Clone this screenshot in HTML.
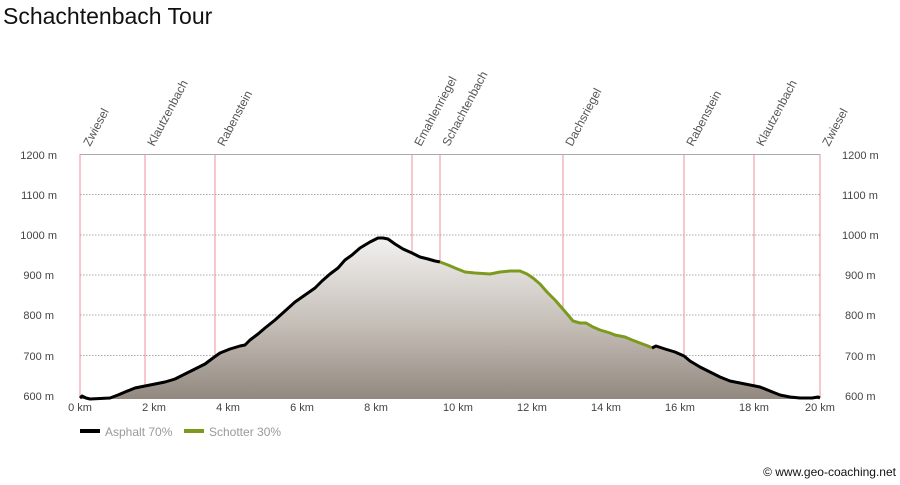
<!DOCTYPE html>
<html><head><meta charset="utf-8"><style>
body{margin:0;background:#fff;width:900px;height:480px;overflow:hidden;font-family:"Liberation Sans",sans-serif}
</style></head><body>
<svg width="900" height="480" xmlns="http://www.w3.org/2000/svg" font-family="Liberation Sans, sans-serif">
<defs><linearGradient id="g" x1="0" y1="0" x2="0" y2="1"><stop offset="0" stop-color="#f2f1f0"/><stop offset="0.55" stop-color="#c4bdb6"/><stop offset="1" stop-color="#928880"/></linearGradient></defs>
<text x="3" y="24" font-size="23" fill="#111">Schachtenbach Tour</text>
<g stroke="#aaa" stroke-dasharray="1.5,1.5" stroke-width="1">
<line x1="80" x2="820" y1="194.5" y2="194.5"/><line x1="80" x2="820" y1="235" y2="235"/><line x1="80" x2="820" y1="275" y2="275"/><line x1="80" x2="820" y1="315" y2="315"/><line x1="80" x2="820" y1="355.5" y2="355.5"/>
</g>
<line x1="80" x2="820" y1="154.5" y2="154.5" stroke="#aaa"/>
<g stroke="#ec8f9a" stroke-width="1">
<line x1="80" x2="80" y1="154" y2="398"/><line x1="145" x2="145" y1="154" y2="398"/><line x1="215" x2="215" y1="154" y2="398"/><line x1="412" x2="412" y1="154" y2="398"/><line x1="440" x2="440" y1="154" y2="398"/><line x1="563" x2="563" y1="154" y2="398"/><line x1="684" x2="684" y1="154" y2="398"/><line x1="754" x2="754" y1="154" y2="398"/><line x1="820" x2="820" y1="154" y2="398"/>
</g>
<path fill="url(#g)" d="M80,398 L82,396 86,398 90,399 110,398 118,395 125,392 135,388 145,386 155,384 165,382 175,379 185,374 195,369 205,364 213,358 220,353 230,349 240,346 245,345 250,340 258,334 265,328 275,320 285,311 295,302 305,295 315,288 322,281 330,274 338,268 345,260 352,255 360,248 370,242 378,238 383,238 388,239 395,244 403,249 412,253 420,257 428,259 435,261 440,262 448,265 455,268 465,272 475,273 490,274 500,272 510,271 520,271 527,274 533,278 540,284 547,292 555,300 562,308 568,315 573,321 580,323 586,323 593,327 600,330 610,333 615,335 625,337 632,340 640,343 648,346 652,348 656,346 665,349 675,352 684,356 690,361 700,367 710,372 720,377 730,381 740,383 750,385 760,387 770,391 780,395 790,397 800,398 812,398 818,397 820,398 L820,399 L80,399Z"/>
<g fill="none" stroke-width="3" stroke-linejoin="round">
<polyline stroke="#000" points="80,398 82,396 86,398 90,399 110,398 118,395 125,392 135,388 145,386 155,384 165,382 175,379 185,374 195,369 205,364 213,358 220,353 230,349 240,346 245,345 250,340 258,334 265,328 275,320 285,311 295,302 305,295 315,288 322,281 330,274 338,268 345,260 352,255 360,248 370,242 378,238 383,238 388,239 395,244 403,249 412,253 420,257 428,259 435,261 440,262"/>
<polyline stroke="#7c9a1e" points="440,262 448,265 455,268 465,272 475,273 490,274 500,272 510,271 520,271 527,274 533,278 540,284 547,292 555,300 562,308 568,315 573,321 580,323 586,323 593,327 600,330 610,333 615,335 625,337 632,340 640,343 648,346 652,348"/>
<polyline stroke="#000" points="652,348 656,346 665,349 675,352 684,356 690,361 700,367 710,372 720,377 730,381 740,383 750,385 760,387 770,391 780,395 790,397 800,398 812,398 818,397 820,398"/>
</g>
<g font-size="11" fill="#444" text-anchor="end">
<text x="57" y="159">1200 m</text><text x="57" y="199">1100 m</text><text x="57" y="239">1000 m</text><text x="54" y="279">900 m</text><text x="54" y="319">800 m</text><text x="54" y="360">700 m</text><text x="54" y="400">600 m</text>
</g>
<g font-size="11" fill="#444">
<text x="842" y="159">1200 m</text><text x="842" y="199">1100 m</text><text x="842" y="239">1000 m</text><text x="845" y="279">900 m</text><text x="845" y="319">800 m</text><text x="845" y="360">700 m</text><text x="845" y="400">600 m</text>
</g>
<g font-size="11" fill="#444" text-anchor="middle">
<text x="80" y="411">0 km</text><text x="154" y="411">2 km</text><text x="228" y="411">4 km</text><text x="302" y="411">6 km</text><text x="376" y="411">8 km</text><text x="458" y="411">10 km</text><text x="532" y="411">12 km</text><text x="606" y="411">14 km</text><text x="680" y="411">16 km</text><text x="754" y="411">18 km</text><text x="820" y="411">20 km</text>
</g>
<g font-size="12" fill="#555">
<text transform="translate(90,147) rotate(-62)">Zwiesel</text>
<text transform="translate(154,147) rotate(-62)">Klautzenbach</text>
<text transform="translate(224,147) rotate(-62)">Rabenstein</text>
<text transform="translate(421,147) rotate(-62)">Emahlenriegel</text>
<text transform="translate(449,147) rotate(-62)">Schachtenbach</text>
<text transform="translate(572,147) rotate(-62)">Dachsriegel</text>
<text transform="translate(693,147) rotate(-62)">Rabenstein</text>
<text transform="translate(763,147) rotate(-62)">Klautzenbach</text>
<text transform="translate(829,147) rotate(-62)">Zwiesel</text>
</g>
<rect x="80" y="429" width="20" height="4" fill="#000"/>
<text x="105" y="436" font-size="12" fill="#999">Asphalt 70%</text>
<rect x="184" y="429" width="20" height="4" fill="#7c9a1e"/>
<text x="209" y="436" font-size="12" fill="#999">Schotter 30%</text>
<text x="896" y="476" font-size="12" fill="#111" text-anchor="end">© www.geo-coaching.net</text>
</svg>
</body></html>
